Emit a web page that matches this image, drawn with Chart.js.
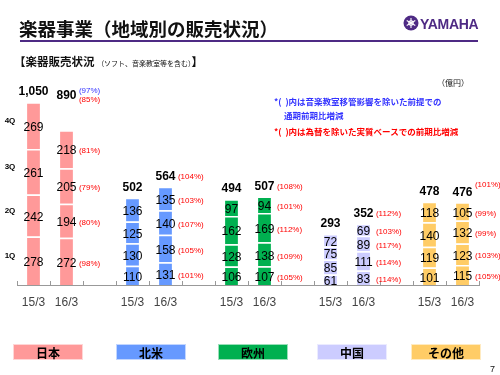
<!DOCTYPE html>
<html>
<head>
<meta charset="utf-8">
<script src="https://cdn.jsdelivr.net/npm/chart.js@4/dist/chart.umd.min.js"></script>
<style>
  html, body { margin:0; padding:0; background:#fff; }
  #wrap { position:relative; width:500px; height:375px; overflow:hidden; font-family:"Noto Sans CJK JP", sans-serif; }
  #wrap canvas { position:absolute; left:0; top:0; }
  .t { position:absolute; white-space:nowrap; line-height:1; }
  .leg { position:absolute; top:344px; height:16px; width:70px; text-align:center; font:bold 12px "Noto Sans CJK JP"; line-height:16px; color:#000; border:1px solid rgba(255,255,255,0.6); box-sizing:border-box; }
</style>
</head>
<body>
<div id="wrap">
  <canvas id="c" width="500" height="375"></canvas>
  <div class="t" style="left:19px;top:15px;font:bold 18.5px 'Noto Sans CJK JP';color:#111;">楽器事業（地域別の販売状況）</div>
  <div style="position:absolute;left:20px;top:40px;width:458px;height:2px;background:#4E2A84;"></div>
  <svg style="position:absolute;left:403px;top:15px;" width="16" height="16" viewBox="0 0 16 16">
    <circle cx="8" cy="8" r="7.5" fill="#4E2A84"/>
    <g stroke="#fff" stroke-width="1.1" fill="none">
      <line x1="8" y1="3" x2="8" y2="13"/>
      <line x1="3.7" y1="5.5" x2="12.3" y2="10.5"/>
      <line x1="3.7" y1="10.5" x2="12.3" y2="5.5"/>
      <circle cx="8" cy="8" r="2.2"/>
    </g>
  </svg>
  <div class="t" style="left:420px;top:16px;font:bold 14px 'Liberation Sans';letter-spacing:-0.3px;color:#4E2A84;">YAMAHA</div>
  <div class="t" style="left:14px;top:53px;font:bold 11.5px 'Noto Sans CJK JP';color:#111;">【楽器販売状況 <span style="font-size:7px;font-weight:normal;">（ソフト、音楽教室等を含む）</span>】</div>
  <div class="t" style="left:437px;top:77px;font:8px 'Noto Sans CJK JP';color:#111;">（億円）</div>
  <div class="t" style="left:274px;top:95px;font:bold 8.5px 'Noto Sans CJK JP';color:#3333FF;">*(&nbsp;&nbsp;)内は音楽教室移管影響を除いた前提での</div>
  <div class="t" style="left:284px;top:109px;font:bold 8.5px 'Noto Sans CJK JP';color:#3333FF;">通期前期比増減</div>
  <div class="t" style="left:274px;top:125px;font:bold 8.5px 'Noto Sans CJK JP';color:#FF0000;">*(&nbsp;&nbsp;)内は為替を除いた実質ベースでの前期比増減</div>
  <div id="legend"></div>
  <div class="t" style="left:490px;top:364px;font:9px 'Liberation Sans';color:#111;">7</div>
</div>
<script>
// ---- data ----
const categories = ['15/3','16/3','','15/3','16/3','','15/3','16/3','','15/3','16/3','','15/3','16/3'];
const regions = ['日本','北米','欧州','中国','その他'];
const regionColors = ['#FF9999','#6699FF','#00B050','#CCCCFF','#FFCC66'];
const quarterNames = ['1Q','2Q','3Q','4Q'];
const q1 = [278, 272, null, 110, 131, null, 106, 107, null, 61, 83, null, 101, 115];
const q2 = [242, 194, null, 130, 158, null, 128, 138, null, 85, 111, null, 119, 123];
const q3 = [261, 205, null, 125, 140, null, 162, 169, null, 75, 89, null, 140, 132];
const q4 = [269, 218, null, 136, 135, null, 97, 94, null, 72, 69, null, 118, 105];
const totals = ['1,050','890',null,'502','564',null,'494','507',null,'293','352',null,'478','476'];
const pctQ1 = [null,'98%',null,null,'101%',null,null,'105%',null,null,'114%',null,null,'105%'];
const pctQ2 = [null,'80%',null,null,'105%',null,null,'109%',null,null,'114%',null,null,'103%'];
const pctQ3 = [null,'79%',null,null,'107%',null,null,'112%',null,null,'117%',null,null,'99%'];
const pctQ4 = [null,'81%',null,null,'103%',null,null,'101%',null,null,'103%',null,null,'99%'];
const pctTotal = [null,'85%',null,null,'104%',null,null,'108%',null,null,'112%',null,null,'101%'];
const pctTotalBlue = [null,'97%',null,null,null,null,null,null,null,null,null,null,null,null];

// legend
const legPos = [13,116,218,317,411];
const legEl = document.getElementById('legend');
regions.forEach((r,i)=>{
  const d = document.createElement('div');
  d.className = 'leg';
  d.style.left = legPos[i] + 'px';
  d.style.background = regionColors[i];
  d.textContent = r;
  legEl.appendChild(d);
});

const slotColors = categories.map((c,i)=>regionColors[Math.floor(i/3)]);
const qData = [q1,q2,q3,q4];
const qPct = [pctQ1,pctQ2,pctQ3,pctQ4];

const labelPlugin = {
  id:'labels',
  afterDatasetsDraw(chart){
    const ctx = chart.ctx;
    const xs = chart.scales.x;
    ctx.save();
    // small tick marks on the axis (pointing up)
    ctx.strokeStyle = '#999';
    ctx.lineWidth = 1;
    const n = categories.length;
    const bottom = chart.chartArea.bottom;
    for (let i=0;i<=n;i++){
      const x = Math.round(xs.left + i*(xs.width/n)) + 0.5;
      ctx.beginPath(); ctx.moveTo(x, bottom); ctx.lineTo(x, bottom-4); ctx.stroke();
    }
    // segment values + percentages
    ctx.textBaseline = 'middle';
    for (let d=0; d<4; d++){
      const meta = chart.getDatasetMeta(d);
      meta.data.forEach((el,i)=>{
        const v = qData[d][i];
        if (v==null) return;
        const cy = (el.y + el.base)/2 + 2;
        ctx.fillStyle = '#000';
        ctx.textAlign = 'center';
        ctx.font = '12px "Liberation Sans"';
        ctx.fillText(String(v), el.x, cy);
        const p = qPct[d][i];
        if (p){
          ctx.fillStyle = '#FF0000';
          ctx.textAlign = 'left';
          ctx.font = '8px "Liberation Sans"';
          ctx.fillText('(' + p + ')', el.x + el.width/2 + 6, cy);
        }
      });
    }
    // quarter labels on the left from first bar
    for (let d=0; d<4; d++){
      const el = chart.getDatasetMeta(d).data[0];
      ctx.fillStyle = '#000';
      ctx.textAlign = 'center';
      ctx.font = 'bold 8px "Liberation Sans"';
      ctx.fillText(quarterNames[d], 10, (el.y + el.base)/2 - 5);
    }
    // totals
    const topMeta = chart.getDatasetMeta(3);
    const top0 = topMeta.data[0].y;
    topMeta.data.forEach((el,i)=>{
      if (!totals[i]) return;
      let ty = el.y - 10;
      if (i === 1) ty = top0 - 6;
      ctx.fillStyle = '#000';
      ctx.textAlign = 'center';
      ctx.font = 'bold 12px "Liberation Sans"';
      ctx.fillText(totals[i], el.x, ty);
      const px = el.x + el.width/2 + 6;
      ctx.textAlign = 'left';
      ctx.font = '8px "Liberation Sans"';
      if (pctTotalBlue[i]){
        ctx.fillStyle = '#3333FF';
        ctx.fillText('(' + pctTotalBlue[i] + ')', px, ty - 5);
      }
      if (pctTotal[i]){
        let py = ty;
        if (i === 1) py = ty + 4;
        if (i === 13) py = ty - 7;
        ctx.fillStyle = '#FF0000';
        ctx.fillText('(' + pctTotal[i] + ')', px, py);
      }
    });
    ctx.restore();
  }
};

new Chart(document.getElementById('c'), {
  type:'bar',
  data:{
    labels: categories,
    datasets: qData.map((arr,d)=>({
      label: quarterNames[d],
      data: arr,
      backgroundColor: slotColors,
      borderColor: 'rgba(255,255,255,0.9)',
      borderWidth: {top:1.5, left:0, right:0, bottom:0},
      borderSkipped: false,
      barPercentage: 0.39,
      categoryPercentage: 1.0
    }))
  },
  options:{
    responsive:false,
    animation:false,
    devicePixelRatio:1,
    layout:{ padding:{ left:17, right:21, top:76, bottom:55.6 } },
    plugins:{ legend:{display:false}, tooltip:{enabled:false} },
    scales:{
      x:{
        stacked:true,
        offset:true,
        grid:{ display:true, drawOnChartArea:false, drawTicks:false, offset:true },
        border:{ display:true, color:'#999', width:1 },
        ticks:{ color:'#444', font:{ size:12, family:'"Liberation Sans"' }, padding:10, maxRotation:0, autoSkip:false }
      },
      y:{
        stacked:true,
        display:false,
        min:0,
        max:1200
      }
    }
  },
  plugins:[labelPlugin]
});
</script>
</body>
</html>
